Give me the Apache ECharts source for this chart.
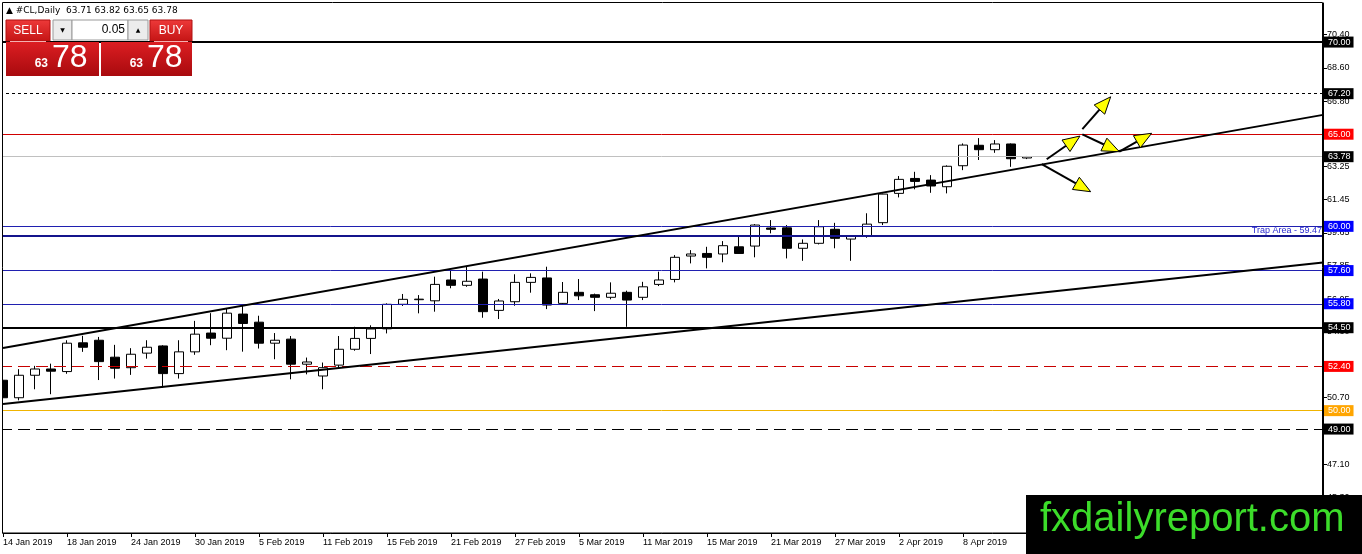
<!DOCTYPE html>
<html>
<head>
<meta charset="utf-8">
<title>#CL,Daily</title>
<script src="https://cdn.jsdelivr.net/npm/echarts@6/dist/echarts.min.js"></script>
<style>
  html, body { margin: 0; padding: 0; background: #fff; }
  #chart { width: 1362px; height: 554px; }
</style>
</head>
<body>
<div id="chart"></div>
<script>
// daily bars, 14 Jan 2019 - 12 Apr 2019
var dates = ['14 Jan 2019','15 Jan 2019','16 Jan 2019','17 Jan 2019','18 Jan 2019','21 Jan 2019','22 Jan 2019',
  '23 Jan 2019','24 Jan 2019','25 Jan 2019','28 Jan 2019','29 Jan 2019','30 Jan 2019','31 Jan 2019',
  '1 Feb 2019','4 Feb 2019','5 Feb 2019','6 Feb 2019','7 Feb 2019','8 Feb 2019','11 Feb 2019','12 Feb 2019',
  '13 Feb 2019','14 Feb 2019','15 Feb 2019','18 Feb 2019','19 Feb 2019','20 Feb 2019','21 Feb 2019',
  '22 Feb 2019','25 Feb 2019','26 Feb 2019','27 Feb 2019','28 Feb 2019',
  '1 Mar 2019','4 Mar 2019','5 Mar 2019','6 Mar 2019','7 Mar 2019','8 Mar 2019','11 Mar 2019','12 Mar 2019',
  '13 Mar 2019','14 Mar 2019','15 Mar 2019','18 Mar 2019','19 Mar 2019','20 Mar 2019','21 Mar 2019',
  '22 Mar 2019','25 Mar 2019','26 Mar 2019','27 Mar 2019','28 Mar 2019','29 Mar 2019',
  '1 Apr 2019','2 Apr 2019','3 Apr 2019','4 Apr 2019','5 Apr 2019','8 Apr 2019','9 Apr 2019',
  '10 Apr 2019','11 Apr 2019','12 Apr 2019'];

var opens  = [51.65,50.70,51.92,52.26,52.12,53.68,53.82,52.90,52.33,53.12,53.51,52.01,53.19,54.21,53.93,55.24,
  54.80,53.66,53.88,52.52,51.88,52.47,53.33,53.92,54.44,55.77,56.02,55.96,57.09,56.80,57.14,55.44,
  55.91,56.96,57.20,55.82,56.42,56.29,56.15,56.42,56.15,56.85,57.12,58.39,58.53,58.50,58.89,58.93,
  59.91,59.92,58.81,59.08,59.84,59.31,59.49,60.20,61.79,62.60,62.51,62.15,63.29,64.40,64.16,64.47,63.71];
var closes = [50.70,51.92,52.26,52.14,53.66,53.44,52.66,52.30,53.06,53.44,52.01,53.19,54.15,53.93,55.29,54.73,
  53.66,53.82,52.52,52.64,52.33,53.33,53.92,54.43,55.77,56.04,56.05,56.85,56.80,57.02,55.37,55.95,
  56.96,57.23,55.73,56.42,56.23,56.15,56.37,56.00,56.72,57.09,58.32,58.50,58.32,58.95,58.53,60.07,
  59.84,58.81,59.08,59.98,59.35,59.49,60.12,61.75,62.55,62.44,62.19,63.26,64.41,64.16,64.47,63.67,63.78];
var lows   = [50.60,50.56,51.16,50.89,52.00,53.19,51.66,51.74,51.94,52.82,51.25,51.74,53.03,53.55,53.28,53.20,
  53.37,52.79,51.70,51.97,51.16,52.30,53.25,53.07,54.19,55.68,55.28,55.37,56.64,56.72,55.04,54.97,
  55.69,56.40,55.51,55.78,56.00,55.40,56.04,54.55,56.00,56.76,56.96,57.99,57.72,58.05,58.52,58.32,
  59.62,58.26,58.13,59.02,58.81,58.13,59.38,60.07,61.57,62.01,61.82,61.79,63.05,63.60,63.99,63.23,63.65];
var highs  = [51.80,52.25,52.43,52.55,53.82,54.06,54.00,53.57,53.39,53.82,53.55,53.82,54.87,55.29,55.57,55.69,
  55.15,54.21,54.05,52.88,52.61,54.05,54.55,54.63,55.82,56.33,56.27,57.27,57.63,57.85,57.54,56.06,
  57.40,57.45,57.81,56.98,57.14,56.35,56.96,56.51,56.99,57.54,58.44,58.71,58.89,59.20,59.47,60.12,
  60.34,60.07,59.29,60.34,60.19,59.50,60.71,61.78,62.73,62.96,62.78,63.31,64.50,64.79,64.68,64.50,63.82];

// bars that carry a date label on the time scale
var xLabelBars = [0, 4, 8, 12, 16, 20, 24, 28, 32, 36, 40, 44, 48, 52, 56, 60];

// price axis ticks as printed by the terminal
var yTicks = [45.30, 47.10, 48.90, 50.70, 52.50, 54.30, 56.05, 57.85, 59.65, 61.45, 63.25, 65.00, 66.80, 68.60, 70.40];

// horizontal levels
var levelValues = [70.00, 67.20, 65.00, 63.78, 60.00, 59.47, 57.60, 55.80, 54.50, 52.40, 50.00, 49.00];
var levelNotes = {59.47: 'Trap Area'};

// channel lines [bar index, price]
var upperTrend = [[0, 53.40], [82.5, 66.05]];
var lowerTrend = [[0, 50.36], [82.5, 58.04]];

// scenario arrows [fromBar, fromPrice, toBar, toPrice]
var arrows = [
  [64.92, 63.38, 67.98, 61.88],
  [65.23, 63.64, 67.31, 64.90],
  [67.46, 64.99, 69.77, 64.05],
  [69.77, 64.05, 71.79, 65.05],
  [67.46, 65.28, 69.23, 67.03]
];

var FONT = 'Liberation Sans';

var levelLook = [
  {color: '#000000', width: 2, type: 'solid', box: '#000000'},
  {color: '#000000', width: 1, type: [3, 3], box: '#000000'},
  {color: '#d00000', width: 1, type: 'solid', box: '#ff0000'},
  {color: '#c0c0c0', width: 1, type: 'solid', box: '#000000'},
  {color: '#2020b0', width: 1, type: 'solid', box: '#0000ff'},
  {color: '#14148c', width: 2, type: 'solid', box: null},
  {color: '#2020b0', width: 1, type: 'solid', box: '#0000ff'},
  {color: '#2020b0', width: 1, type: 'solid', box: '#0000ff'},
  {color: '#000000', width: 2, type: 'solid', box: '#000000'},
  {color: '#c80000', width: 1, type: [12, 6], box: '#ff0000'},
  {color: '#f0b400', width: 1, type: 'solid', box: '#ffa500'},
  {color: '#000000', width: 1, type: [12, 6], box: '#000000'}
];

var candles = [];
for (var i = 0; i < dates.length; i++) {
  candles.push([i, opens[i], closes[i], lows[i], highs[i]]);
}

var levelLines = levelValues.map(function (v, idx) {
  var look = levelLook[idx];
  var label;
  if (look.box) {
    label = {
      show: true, position: 'end', distance: 1,
      formatter: v.toFixed(2),
      color: '#fff', backgroundColor: look.box,
      padding: [1, 3, 0, 4], fontSize: 9, lineHeight: 10, fontFamily: FONT
    };
  } else {
    label = {
      show: true, position: 'insideEndTop', distance: 1,
      formatter: levelNotes[v] + ' - ' + v.toFixed(2),
      color: '#2a2ad0', fontSize: 9, fontFamily: FONT
    };
  }
  return {
    yAxis: v,
    lineStyle: {color: look.color, width: look.width, type: look.type},
    label: label
  };
});

function renderArrow(params, api) {
  var p1 = api.coord([api.value(0), api.value(1)]);
  var p2 = api.coord([api.value(2), api.value(3)]);
  var dx = p2[0] - p1[0], dy = p2[1] - p1[1];
  var len = Math.sqrt(dx * dx + dy * dy);
  var ux = dx / len, uy = dy / len;
  var headLen = 17, headW = 7;
  var bx = p2[0] - ux * headLen, by = p2[1] - uy * headLen;
  return {
    type: 'group',
    children: [{
      type: 'line',
      shape: {x1: p1[0], y1: p1[1], x2: bx, y2: by},
      style: {stroke: '#000', lineWidth: 2}
    }, {
      type: 'polygon',
      shape: {points: [[p2[0], p2[1]], [bx - uy * headW, by + ux * headW], [bx + uy * headW, by - ux * headW]]},
      style: {fill: '#ffff00', stroke: '#000', lineWidth: 1}
    }]
  };
}

var myChart = echarts.init(document.getElementById('chart'), null, {renderer: 'canvas'});

var option = {
  animation: false,
  backgroundColor: '#fff',
  // one bar = 16px, first bar sits on the left frame
  grid: {left: 0, right: 39, top: 3, bottom: 21},
  xAxis: {
    type: 'value',
    min: -0.1875,
    max: 82.5,
    axisLine: {onZero: false, lineStyle: {color: '#000', width: 1}},
    axisTick: {show: true, length: 4, customValues: xLabelBars, lineStyle: {color: '#000'}},
    axisLabel: {
      align: 'left', margin: 5, color: '#000', fontSize: 9, fontFamily: FONT,
      customValues: xLabelBars,
      formatter: function (v) { return dates[Math.round(v)]; }
    },
    splitLine: {show: false}
  },
  yAxis: {
    type: 'value',
    position: 'right',
    min: 43.36,
    max: 72.12,
    axisLine: {show: true, onZero: false, lineStyle: {color: '#000', width: 1}},
    axisTick: {show: true, length: 4, customValues: yTicks, lineStyle: {color: '#000'}},
    axisLabel: {
      margin: 4, color: '#000', fontSize: 9, fontFamily: FONT,
      customValues: yTicks,
      formatter: function (v) { return v.toFixed(2); }
    },
    splitLine: {show: false}
  },
  series: [{
    type: 'candlestick',
    data: candles,
    encode: {x: 0, y: [1, 2, 3, 4]},
    barWidth: 9,
    itemStyle: {
      color: '#ffffff', color0: '#000000',
      borderColor: '#000000', borderColor0: '#000000', borderWidth: 1
    },
    markLine: {
      silent: true,
      symbol: ['none', 'none'],
      emphasis: {disabled: true},
      data: levelLines,
      z: 3
    },
    z: 2
  }, {
    type: 'line',
    data: upperTrend,
    symbol: 'none',
    lineStyle: {color: '#000', width: 2},
    silent: true,
    z: 4
  }, {
    type: 'line',
    data: lowerTrend,
    symbol: 'none',
    lineStyle: {color: '#000', width: 2},
    silent: true,
    z: 4
  }, {
    type: 'custom',
    renderItem: renderArrow,
    encode: {x: [0, 2], y: [1, 3]},
    data: arrows,
    silent: true,
    z: 5
  }],
  graphic: [
    // chart frame and left edge
    {type: 'rect', z: 90, shape: {x: 0, y: 0, width: 2.5, height: 534}, style: {fill: '#fff'}},
    {type: 'rect', z: 91, shape: {x: 2.5, y: 2.5, width: 1320, height: 530.5}, style: {fill: 'none', stroke: '#000', lineWidth: 1}},
    // header
    {type: 'text', z: 95, x: 6, y: 10.5,
      style: {text: '\u25B2 #CL,Daily  63.71 63.82 63.65 63.78', fill: '#000', font: '9px "DejaVu Sans"', verticalAlign: 'middle'}},
    // one click trading panel
    {type: 'rect', z: 100, shape: {x: 6, y: 20, width: 44, height: 21},
      style: {fill: new echarts.graphic.LinearGradient(0, 0, 0, 1, [{offset: 0, color: '#ee3a3a'}, {offset: 1, color: '#c41414'}]), stroke: '#b01010'}},
    {type: 'text', z: 101, x: 28, y: 30.5, style: {text: 'SELL', fill: '#fff', font: '12px ' + FONT, align: 'center', verticalAlign: 'middle'}},
    {type: 'rect', z: 100, shape: {x: 53, y: 20, width: 19, height: 20}, style: {fill: '#ececec', stroke: '#9a9a9a'}},
    {type: 'text', z: 101, x: 62.5, y: 30, style: {text: '\u25BC', fill: '#000', font: '6px "DejaVu Sans"', align: 'center', verticalAlign: 'middle'}},
    {type: 'rect', z: 100, shape: {x: 72, y: 20, width: 56, height: 20}, style: {fill: '#fff', stroke: '#9a9a9a'}},
    {type: 'text', z: 101, x: 125, y: 30, style: {text: '0.05', fill: '#000', font: '12px ' + FONT, align: 'right', verticalAlign: 'middle'}},
    {type: 'rect', z: 100, shape: {x: 128, y: 20, width: 20, height: 20}, style: {fill: '#ececec', stroke: '#9a9a9a'}},
    {type: 'text', z: 101, x: 138, y: 30, style: {text: '\u25B2', fill: '#000', font: '6px "DejaVu Sans"', align: 'center', verticalAlign: 'middle'}},
    {type: 'rect', z: 100, shape: {x: 150, y: 20, width: 42, height: 21},
      style: {fill: new echarts.graphic.LinearGradient(0, 0, 0, 1, [{offset: 0, color: '#ee3a3a'}, {offset: 1, color: '#c41414'}]), stroke: '#b01010'}},
    {type: 'text', z: 101, x: 171, y: 30.5, style: {text: 'BUY', fill: '#fff', font: '12px ' + FONT, align: 'center', verticalAlign: 'middle'}},
    {type: 'rect', z: 100, shape: {x: 6, y: 42, width: 93, height: 34},
      style: {fill: new echarts.graphic.LinearGradient(0, 0, 0, 1, [{offset: 0, color: '#dc1e22'}, {offset: 1, color: '#a80a0e'}])}},
    {type: 'rect', z: 100, shape: {x: 101, y: 42, width: 91, height: 34},
      style: {fill: new echarts.graphic.LinearGradient(0, 0, 0, 1, [{offset: 0, color: '#dc1e22'}, {offset: 1, color: '#a80a0e'}])}},
    {type: 'rect', z: 100, shape: {x: 10, y: 41, width: 36, height: 1}, style: {fill: '#f4b0b0'}},
    {type: 'rect', z: 100, shape: {x: 154, y: 41, width: 34, height: 1}, style: {fill: '#f4b0b0'}},
    {type: 'text', z: 101, x: 48, y: 70, style: {text: '63', fill: '#fff', font: 'bold 12px ' + FONT, align: 'right', verticalAlign: 'bottom'}},
    {type: 'text', z: 101, x: 52, y: 74, style: {text: '78', fill: '#fff', font: '32px ' + FONT, align: 'left', verticalAlign: 'bottom'}},
    {type: 'text', z: 101, x: 143, y: 70, style: {text: '63', fill: '#fff', font: 'bold 12px ' + FONT, align: 'right', verticalAlign: 'bottom'}},
    {type: 'text', z: 101, x: 147, y: 74, style: {text: '78', fill: '#fff', font: '32px ' + FONT, align: 'left', verticalAlign: 'bottom'}},
    // watermark
    {type: 'rect', z: 110, shape: {x: 1026, y: 495, width: 336, height: 59}, style: {fill: '#000'}},
    {type: 'text', z: 111, x: 1040, y: 520,
      style: {text: 'fxdailyreport.com', fill: '#3cdc2a', font: '40px ' + FONT, verticalAlign: 'middle'}}
  ]
};

myChart.setOption(option);
</script>
</body>
</html>
